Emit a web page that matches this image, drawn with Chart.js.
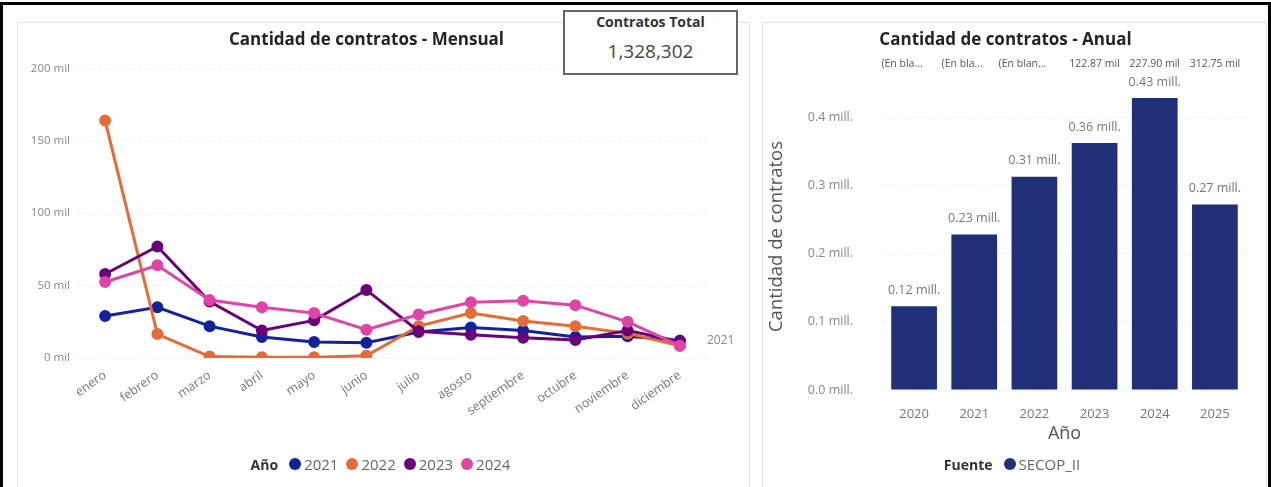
<!DOCTYPE html>
<html lang="es">
<head>
<meta charset="utf-8">
<script src="https://cdn.jsdelivr.net/npm/chart.js@4.4.1/dist/chart.umd.min.js"></script>
<style>
  html, body { margin: 0; padding: 0; background: #fff; }
  body { width: 1271px; height: 487px; position: relative; overflow: hidden;
         font-family: 'Segoe UI', 'Open Sans', sans-serif; }
  .marco { position: absolute; left: 0; top: 2px; width: 1271px; height: 490px;
           border: 3px solid #000; border-bottom: none; box-sizing: border-box; }
  .panel { position: absolute; top: 22px; height: 470px; border: 1px solid #e2e2e2;
           box-sizing: border-box; background: #fff; }
  canvas { position: absolute; }
  .tarjeta { position: absolute; left: 563px; top: 10px; width: 175px; height: 65px;
             border: 2px solid #666; box-sizing: border-box; background: #fff; text-align: center; z-index: 2; }
  .tarjeta .t { position: absolute; left: 0; right: 0; top: 0; font-size: 14px; font-weight: bold; color: #333; }
  .tarjeta .v { position: absolute; left: 0; right: 0; top: 26px; font-size: 19px; color: #444; }
  .leyenda { position: absolute; display: flex; justify-content: center; align-items: center;
             gap: 8px; font-size: 15px; color: #666; }
  .leyenda b { color: #333; font-size: 14px; margin-right: 3px; }
  .leyenda i { display: inline-block; width: 12px; height: 12px; border-radius: 50%; margin-right: -5px; }
</style>
</head>
<body>
<div class="marco"></div>
<div class="panel" style="left:17px;width:733px;"></div>
<div class="panel" style="left:762px;width:505px;"></div>

<canvas id="mensual" width="733" height="465" style="left:17px;top:22px;"></canvas>
<canvas id="anual" width="504" height="465" style="left:762px;top:22px;"></canvas>

<div class="tarjeta">
  <div class="t">Contratos Total</div>
  <div class="v" id="total"></div>
</div>

<div class="leyenda" id="leyMensual" style="left:17px;width:727px;top:454px;height:20px;"></div>
<div class="leyenda" id="leyAnual" style="left:762px;width:500px;top:454px;height:20px;"></div>

<script>
// ── Datos ─────────────────────────────────────────────────
const meses = ['enero', 'febrero', 'marzo', 'abril', 'mayo', 'junio', 'julio',
               'agosto', 'septiembre', 'octubre', 'noviembre', 'diciembre'];
const serie2021 = [29000, 35000, 22000, 14500, 11000, 10500, 18000, 21000, 19000, 14500, 15000, 12000];
const serie2022 = [164000, 16500, 1000, 500, 500, 1500, 22000, 31000, 25500, 22000, 17000, 8500];
const serie2023 = [58000, 77000, 39000, 19000, 26000, 47000, 18500, 16000, 14000, 12500, 19000, 11500];
const serie2024 = [52500, 64000, 40000, 35000, 31000, 19500, 30000, 38500, 39500, 36500, 25000, 8500];
const ticksMensual = [0, 50000, 100000, 150000, 200000];

const anios = ['2020', '2021', '2022', '2023', '2024', '2025'];
const contratosAnual = [122870, 227900, 312750, 362000, 428000, 272000];
const etiquetasSuperiores = ['(En bla...', '(En bla...', '(En blan...', '122.87 mil', '227.90 mil', '312.75 mil'];
const ticksAnual = [0, 100000, 200000, 300000, 400000];

const contratosTotal = 1328302;

// ── Estilo ────────────────────────────────────────────────
const FUENTE = "'Segoe UI', 'Open Sans', sans-serif";
const colores = { '2021': '#12239E', '2022': '#E66C37', '2023': '#6B007B', '2024': '#E044A7' };
const colorBarra = '#1f2f78';

document.querySelector('#total').textContent = contratosTotal.toLocaleString('en-US');

// ── Leyendas ──────────────────────────────────────────────
document.querySelector('#leyMensual').innerHTML = '<b>Año</b>' +
  Object.keys(colores).map(k => `<i style="background:${colores[k]}"></i><span>${k}</span>`).join('');
document.querySelector('#leyAnual').innerHTML =
  `<b>Fuente</b><i style="background:${colorBarra}"></i><span>SECOP_II</span>`;

// ── Plugins ───────────────────────────────────────────────
const etiquetaFinal = {
  id: 'etiquetaFinal',
  afterDatasetsDraw(chart) {
    const meta = chart.getDatasetMeta(0);
    const p = meta.data[meta.data.length - 1];
    const ctx = chart.ctx;
    ctx.save();
    ctx.font = '12px ' + FUENTE;
    ctx.fillStyle = '#888';
    ctx.textAlign = 'left';
    ctx.textBaseline = 'middle';
    ctx.fillText(chart.data.datasets[0].label, p.x + 27, p.y);
    ctx.restore();
  }
};

const etiquetasBarras = {
  id: 'etiquetasBarras',
  afterDatasetsDraw(chart) {
    const meta = chart.getDatasetMeta(0);
    const ctx = chart.ctx;
    ctx.save();
    ctx.textAlign = 'center';
    ctx.textBaseline = 'middle';
    meta.data.forEach((bar, i) => {
      ctx.font = '12.5px ' + FUENTE;
      ctx.fillStyle = '#777';
      ctx.fillText((contratosAnual[i] / 1e6).toFixed(2) + ' mill.', bar.x, bar.y - 16);
      ctx.font = '10.5px ' + FUENTE;
      ctx.fillStyle = '#555';
      ctx.fillText(etiquetasSuperiores[i], bar.x - (i < 3 ? 12 : 0), chart.chartArea.top - 19);
    });
    ctx.restore();
  }
};

// ── Línea mensual ─────────────────────────────────────────
const serie = (label, data, order) => ({
  label, data, order,
  borderColor: colores[label],
  backgroundColor: colores[label],
  pointBackgroundColor: colores[label],
  pointBorderColor: colores[label],
  borderWidth: 3,
  pointRadius: 4.5,
  tension: 0,
});

new Chart(document.getElementById('mensual'), {
  type: 'line',
  data: {
    labels: meses,
    datasets: [
      serie('2021', serie2021, 3),
      serie('2022', serie2022, 2),
      serie('2023', serie2023, 1),
      serie('2024', serie2024, 0),
    ]
  },
  options: {
    responsive: false,
    animation: false,
    layout: { padding: { left: 10, right: 44, bottom: 49 } },
    plugins: {
      legend: { display: false },
      tooltip: { enabled: false },
      title: {
        display: true,
        text: 'Cantidad de contratos - Mensual',
        color: '#252423',
        font: { size: 17, weight: 'bold', family: FUENTE },
        padding: { top: 8, bottom: 18 }
      }
    },
    scales: {
      x: {
        offset: true,
        grid: { display: false },
        border: { display: false },
        ticks: { minRotation: 35, maxRotation: 35, color: '#777', font: { size: 12.5, family: FUENTE }, padding: 2 },
        afterFit: s => { s.height = 80; }
      },
      y: {
        min: 0, max: 200000,
        grid: { color: '#ececec', drawTicks: false },
        border: { display: false, dash: [2, 3] },
        ticks: { color: '#888', font: { size: 11.5, family: FUENTE }, padding: 9, callback: v => (v / 1000) + ' mil' },
        afterBuildTicks: s => { s.ticks = ticksMensual.map(v => ({ value: v })); },
        afterFit: s => { s.width = 52; }
      }
    }
  },
  plugins: [etiquetaFinal]
});

// ── Barras anual ──────────────────────────────────────────
new Chart(document.getElementById('anual'), {
  type: 'bar',
  data: {
    labels: anios,
    datasets: [{
      label: 'SECOP_II',
      data: contratosAnual,
      backgroundColor: colorBarra,
      barPercentage: 0.76,
      categoryPercentage: 1,
    }]
  },
  options: {
    responsive: false,
    animation: false,
    layout: { padding: { left: 4, right: 21, bottom: 37 } },
    plugins: {
      legend: { display: false },
      tooltip: { enabled: false },
      title: {
        display: true,
        text: 'Cantidad de contratos - Anual',
        color: '#252423',
        font: { size: 17, weight: 'bold', family: FUENTE },
        padding: { top: 8, bottom: 32.6 }
      }
    },
    scales: {
      x: {
        grid: { display: false },
        border: { display: false },
        ticks: { color: '#777', font: { size: 13, family: FUENTE }, padding: 8 },
        title: { display: true, text: 'Año', color: '#555', font: { size: 18, family: FUENTE }, padding: { top: 4, bottom: 5 } },
        afterFit: s => { s.height = 60; }
      },
      y: {
        min: 0, max: 450000,
        grid: { color: '#ececec', drawTicks: false },
        border: { display: false, dash: [2, 3] },
        ticks: { color: '#888', font: { size: 12.5, family: FUENTE }, padding: 31, callback: v => (v / 1e6).toFixed(1) + ' mill.' },
        title: { display: true, text: 'Cantidad de contratos', color: '#555', font: { size: 18.5, family: FUENTE }, padding: { top: 0, bottom: 0 } },
        afterBuildTicks: s => { s.ticks = ticksAnual.map(v => ({ value: v })); },
        afterFit: s => { s.width = 118; }
      }
    }
  },
  plugins: [etiquetasBarras]
});
</script>
</body>
</html>
